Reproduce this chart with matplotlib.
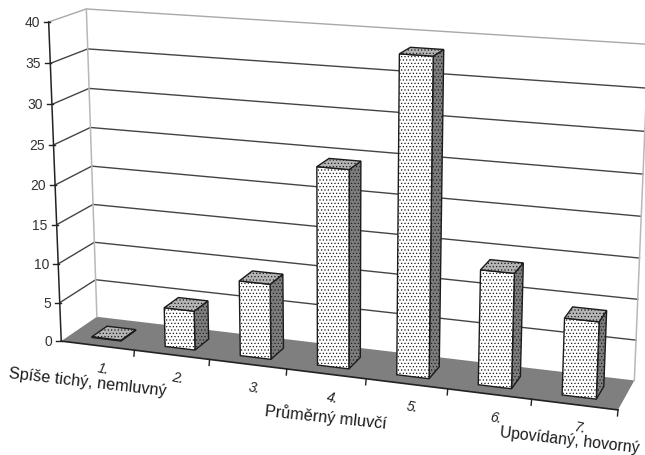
import numpy as np
import matplotlib
matplotlib.use("Agg")
import matplotlib.pyplot as plt
from matplotlib.patches import Polygon

plt.rcParams['font.family'] = ['Liberation Sans', 'DejaVu Sans']
plt.rcParams['hatch.linewidth'] = 0.5

# Survey shares per answer on the seven-point scale
categories = ["1.", "2.", "3.", "4.", "5.", "6.", "7."]
values = [0.1, 5, 9.5, 24.5, 38.5, 14, 9.3]
value_ticks = [0, 5, 10, 15, 20, 25, 30, 35, 40]
scale_labels = ["Spíše tichý, nemluvný", "Průměrný mluvčí", "Upovídaný, hovorný"]

W, H = 645, 456
N = len(categories)
VMAX = value_ticks[-1]

# Camera calibration: (category position, value, depth) -> pixel position
calib = [
    (0, 0, 0, 61, 342), (0, 20, 0, 55, 186), (0, 40, 0, 49, 23),
    (0, 0, 1, 97, 318), (0, 20, 1, 92, 167), (0, 40, 1, 86, 10),
    (7, 0, 1, 634, 381), (7, 20, 1, 642, 218), (7, 40, 1, 648, 45),
    (7, 0, 0, 618, 411),
]


def solve_camera(points):
    rows = []
    for x, y, z, u, v in points:
        p = [x, y, z, 1]
        rows.append(p + [0, 0, 0, 0] + [-u * c for c in p])
        rows.append([0, 0, 0, 0] + p + [-v * c for c in p])
    _, _, vt = np.linalg.svd(np.array(rows, float))
    return vt[-1].reshape(3, 4)


CAMERA = solve_camera(calib)


def proj(x, y, z):
    h = CAMERA @ np.array([x, y, z, 1.0])
    return h[0] / h[2], h[1] / h[2]


def face(*corners):
    return [proj(*c) for c in corners]


fig = plt.figure(figsize=(W / 100, H / 100), dpi=100, facecolor="white")
ax = fig.add_axes([0, 0, 1, 1])
ax.set_xlim(0, W)
ax.set_ylim(H, 0)
ax.axis("off")

# Floor
ax.add_patch(Polygon(face((0, 0, 0), (0, 0, 1), (N, 0, 1), (N, 0, 0)),
                     closed=True, fc="#7f7f7f", ec="none", zorder=1))

# Gridlines across the side wall and the back wall
for v in value_ticks[1:]:
    pts = np.array(face((0, v, 0), (0, v, 1), (N, v, 1)))
    col = "#a8a8a8" if v == VMAX else "#444444"
    ax.plot(pts[:, 0], pts[:, 1], color=col, lw=1.0, zorder=2)

# Wall corner edges
for x_pos in (0, N):
    pts = np.array(face((x_pos, 0, 1), (x_pos, VMAX, 1)))
    ax.plot(pts[:, 0], pts[:, 1], color="#b8b8b8", lw=1.1, zorder=2)

# Value axis with its ticks and labels
pts = np.array(face((0, 0, 0), (0, VMAX, 0)))
ax.plot(pts[:, 0], pts[:, 1], color="#222222", lw=1.1, zorder=3)
for v in value_ticks:
    px, py = proj(0, v, 0)
    ax.plot([px - 5, px + 1], [py, py], color="#222222", lw=1.0, zorder=3)
    ax.text(px - 9, py, str(v), ha="right", va="center", fontsize=10,
            color="#333333", zorder=5)

# Category axis with ticks between the columns
pts = np.array(face((0, 0, 0), (N, 0, 0)))
ax.plot(pts[:, 0], pts[:, 1], color="#222222", lw=1.2, zorder=3)
for i in range(1, N + 1):
    px, py = proj(i, 0, 0)
    ax.plot([px, px - 0.5], [py, py + 6], color="#222222", lw=1.0, zorder=3)

# Columns
BAR_W = 0.40
Z0, Z1 = 0.25, 0.68
for i, val in enumerate(values):
    x0 = i + 0.5 - BAR_W / 2
    x1 = i + 0.5 + BAR_W / 2
    zo = 4 + i * 0.01
    common = dict(closed=True, edgecolor="#1c1c1c", lw=1.0, zorder=zo)
    for fc, corners in (
        ("#7d7d7d", ((x1, 0, Z0), (x1, 0, Z1), (x1, val, Z1), (x1, val, Z0))),
        ("#ffffff", ((x0, 0, Z0), (x1, 0, Z0), (x1, val, Z0), (x0, val, Z0))),
        ("#b5b5b5", ((x0, val, Z0), (x1, val, Z0), (x1, val, Z1), (x0, val, Z1))),
    ):
        ax.add_patch(Polygon(face(*corners), facecolor=fc, hatch=".....", **common))

# Slanted category labels
offsets = (6, 23)
for i, lab in enumerate(categories):
    px, py = proj(i + 0.5, 0, 0)
    ax.text(px + offsets[0], py + offsets[1], lab, style="italic", fontsize=10,
            color="#222222", rotation=-12, ha="center", va="center", zorder=5)

# Scale descriptions under the axis
for lab, (tx, ty, rot, fs) in zip(scale_labels, [(88, 383, -6.5, 11.7), (326, 417, -6, 11.7),
                                                 (570, 440, -6.5, 11.3)]):
    ax.text(tx, ty, lab, fontsize=fs, color="#1a1a1a", rotation=rot,
            rotation_mode="anchor", ha="center", va="center", zorder=5)

fig.savefig("out.png", dpi=100)
